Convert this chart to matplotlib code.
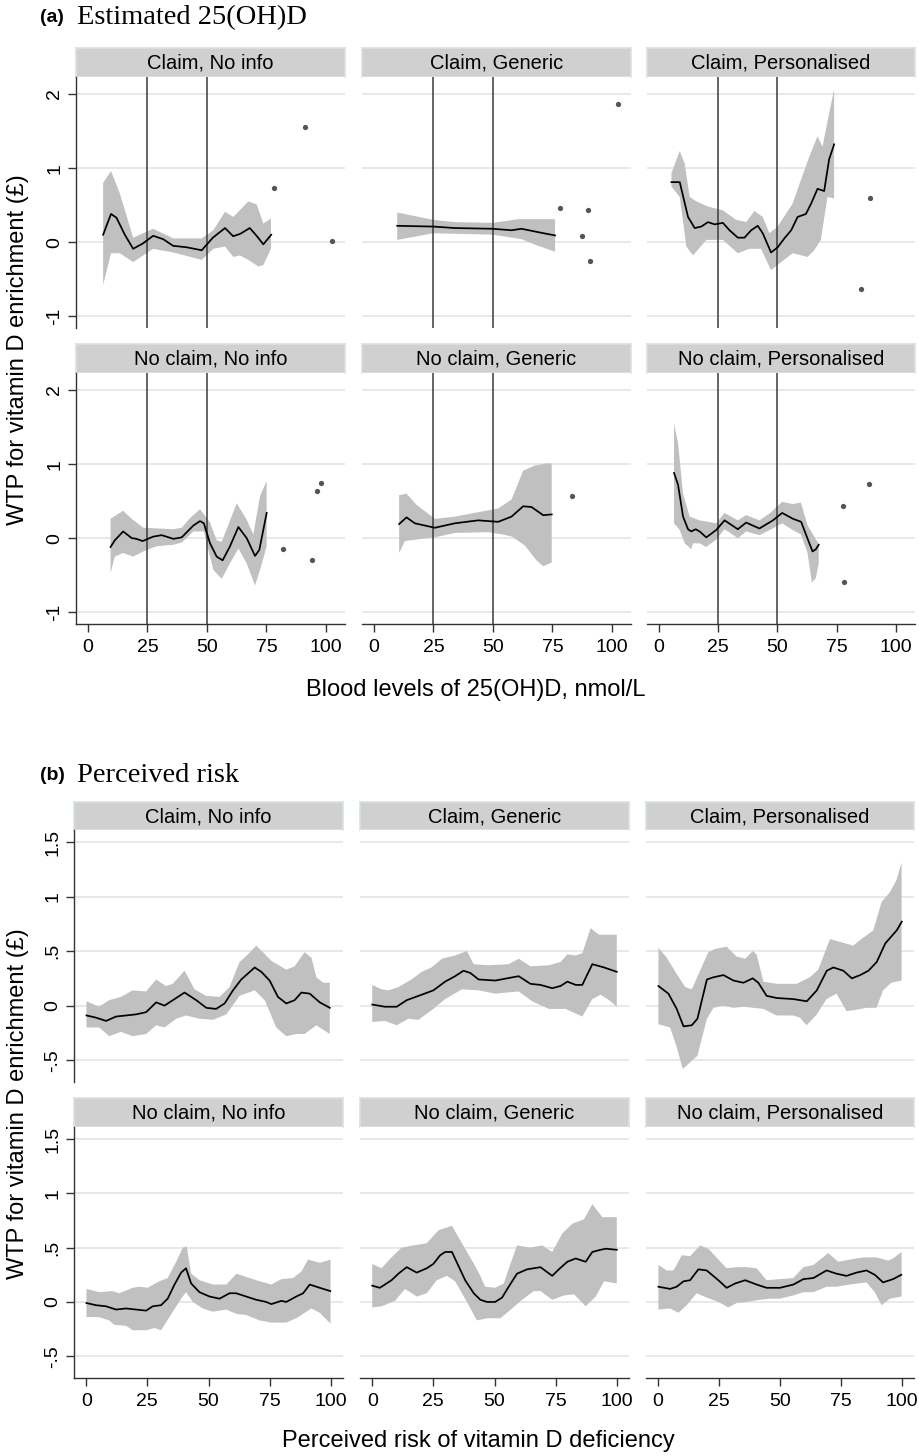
import matplotlib
matplotlib.use("Agg")
import matplotlib.pyplot as plt
import numpy as np

# ---- panel (a): estimated 25(OH)D ----
A_FACETS = ["Claim, No info", "Claim, Generic", "Claim, Personalised",
            "No claim, No info", "No claim, Generic", "No claim, Personalised"]
A_REF_LINES = [25, 50]
A_XTICKS = [0, 25, 50, 75, 100]
A_YTICKS = [-1, 0, 1, 2]
A_YTICKLABELS = ["-1", "0", "1", "2"]

a1_x = [6.4, 9.7, 12.0, 15.5, 19.0, 23.0, 27.4, 31.6, 35.8, 41.5, 47.8, 52.5, 57.6, 61.0, 63.9, 68.0, 71.0, 73.7, 77.0]
a1_fit = [0.10, 0.38, 0.33, 0.10, -0.09, -0.02, 0.085, 0.04, -0.05, -0.07, -0.11, 0.06, 0.19, 0.08, 0.11, 0.19, 0.08, -0.03, 0.10]
a1_hi_x = [6.4, 9.7, 13.4, 19.0, 27.4, 35.9, 47.8, 52.7, 57.6, 61.1, 67.4, 70.9, 73.7, 76.9]
a1_hi = [0.80, 0.96, 0.66, 0.06, 0.18, 0.05, 0.05, 0.16, 0.41, 0.34, 0.55, 0.51, 0.25, 0.32]
a1_lo_x = [6.4, 9.7, 13.4, 19.0, 27.4, 35.9, 47.8, 52.7, 57.6, 61.1, 63.9, 67.4, 71.6, 73.7, 76.9]
a1_lo = [-0.58, -0.15, -0.15, -0.27, -0.09, -0.14, -0.24, -0.09, -0.06, -0.20, -0.18, -0.24, -0.33, -0.31, -0.09]
a1_pts_x = [78.2, 91.0, 102.4]
a1_pts_y = [0.73, 1.55, 0.01]

a2_x = [9.8, 25.0, 34.0, 50.0, 57.8, 62.0, 69.7, 76.1]
a2_fit = [0.22, 0.21, 0.19, 0.18, 0.16, 0.18, 0.13, 0.09]
a2_hi_x = [9.8, 25.0, 34.0, 50.0, 60.7, 76.1]
a2_hi = [0.40, 0.30, 0.27, 0.26, 0.31, 0.31]
a2_lo_x = [9.8, 25.0, 50.0, 62.0, 69.0, 76.1]
a2_lo = [0.03, 0.12, 0.10, 0.04, -0.05, -0.13]
a2_pts_x = [78.2, 87.5, 90.1, 90.8, 102.4]
a2_pts_y = [0.46, 0.08, 0.44, -0.25, 1.86]

a3_x = [5.3, 8.8, 12.3, 15.1, 17.9, 20.7, 23.5, 27.0, 29.8, 33.3, 36.1, 38.9, 41.7, 43.8, 47.3, 50.1, 52.9, 55.8, 58.5, 62.0, 64.2, 66.9, 69.7, 71.8, 73.9]
a3_fit = [0.81, 0.81, 0.34, 0.19, 0.21, 0.27, 0.24, 0.26, 0.16, 0.06, 0.06, 0.16, 0.22, 0.12, -0.14, -0.07, 0.05, 0.16, 0.34, 0.38, 0.52, 0.72, 0.69, 1.12, 1.32]
a3_hi_x = [5.3, 8.8, 10.9, 13.0, 15.8, 20.7, 27.0, 32.6, 36.8, 40.3, 43.8, 46.6, 50.1, 56.4, 59.9, 63.4, 66.9, 69.0, 71.8, 73.9]
a3_hi = [0.93, 1.23, 1.06, 0.61, 0.55, 0.48, 0.43, 0.30, 0.27, 0.42, 0.34, 0.12, 0.21, 0.52, 0.84, 1.15, 1.43, 1.29, 1.74, 2.06]
a3_lo_x = [5.3, 8.8, 11.6, 14.4, 20.0, 27.0, 33.3, 38.2, 43.1, 47.3, 50.8, 56.4, 62.7, 65.5, 68.3, 71.1, 73.9]
a3_lo = [0.75, 0.61, -0.06, -0.18, 0.03, 0.03, -0.15, -0.09, -0.09, -0.38, -0.29, -0.15, -0.20, -0.11, 0.03, 0.61, 0.59]
a3_pts_x = [89.2, 85.4]
a3_pts_y = [0.60, -0.64]

a4_x = [9.5, 11.3, 14.8, 18.4, 20.4, 23.0, 27.4, 31.0, 35.9, 39.4, 44.3, 47.1, 48.7, 51.3, 54.1, 56.6, 59.7, 63.2, 66.7, 70.2, 72.0, 75.1]
a4_fit = [-0.12, -0.03, 0.09, 0.0, -0.01, -0.04, 0.02, 0.04, -0.01, 0.01, 0.17, 0.23, 0.20, -0.07, -0.25, -0.30, -0.11, 0.15, 0.0, -0.24, -0.16, 0.34]
a4_hi_x = [9.5, 14.8, 18.4, 23.3, 35.9, 39.4, 42.9, 47.1, 51.3, 54.1, 56.2, 62.5, 66.7, 69.5, 72.3, 75.1]
a4_hi = [0.26, 0.37, 0.26, 0.14, 0.12, 0.14, 0.27, 0.39, 0.21, -0.03, -0.05, 0.47, 0.25, 0.05, 0.57, 0.77]
a4_lo_x = [9.5, 11.3, 14.8, 19.0, 23.3, 28.8, 35.9, 39.4, 44.3, 48.7, 52.7, 56.2, 59.7, 63.2, 66.7, 70.2, 72.3, 75.1]
a4_lo = [-0.47, -0.25, -0.20, -0.25, -0.18, -0.11, -0.09, -0.06, 0.09, 0.09, -0.43, -0.55, -0.34, -0.14, -0.34, -0.64, -0.43, -0.11]
a4_pts_x = [82.0, 94.3, 96.2, 98.0]
a4_pts_y = [-0.15, -0.30, 0.64, 0.74]

a5_x = [10.6, 13.7, 17.2, 25.6, 34.0, 43.8, 52.2, 57.8, 62.7, 66.2, 71.1, 74.7]
a5_fit = [0.19, 0.28, 0.20, 0.14, 0.20, 0.24, 0.22, 0.29, 0.43, 0.42, 0.31, 0.32]
a5_hi_x = [10.6, 13.7, 17.9, 25.6, 34.0, 43.8, 52.2, 57.8, 62.7, 67.6, 72.6, 74.7]
a5_hi = [0.58, 0.60, 0.45, 0.26, 0.29, 0.35, 0.40, 0.52, 0.91, 0.98, 1.01, 1.01]
a5_lo_x = [10.6, 13.0, 20.0, 25.6, 34.0, 48.0, 54.0, 58.0, 63.4, 68.3, 71.1, 74.7]
a5_lo = [-0.20, -0.04, -0.01, 0.01, 0.07, 0.08, 0.05, 0.02, -0.10, -0.30, -0.38, -0.33]
a5_pts_x = [83.3]
a5_pts_y = [0.57]

a6_x = [6.4, 8.1, 10.2, 12.3, 13.7, 15.5, 17.2, 20.0, 24.2, 27.7, 33.3, 36.8, 42.4, 48.1, 52.0, 56.6, 60.0, 62.0, 64.8, 66.2, 67.4]
a6_fit = [0.88, 0.72, 0.29, 0.12, 0.09, 0.12, 0.09, 0.01, 0.11, 0.24, 0.12, 0.21, 0.13, 0.24, 0.34, 0.26, 0.22, 0.05, -0.18, -0.15, -0.09]
a6_hi_x = [6.4, 8.1, 10.2, 13.0, 17.2, 24.2, 27.7, 33.3, 36.8, 42.4, 46.6, 52.0, 56.4, 59.9, 62.7, 64.8, 67.4]
a6_hi = [1.55, 1.28, 0.60, 0.29, 0.24, 0.20, 0.34, 0.24, 0.31, 0.24, 0.33, 0.49, 0.46, 0.48, 0.17, 0.06, -0.08]
a6_lo_x = [6.4, 8.8, 10.9, 13.7, 14.4, 17.2, 20.0, 24.2, 27.7, 33.3, 36.8, 42.4, 48.0, 52.0, 56.4, 59.9, 62.7, 64.5, 66.2, 67.4]
a6_lo = [0.20, 0.11, -0.07, -0.15, -0.07, -0.07, -0.12, -0.02, 0.12, 0.0, 0.09, 0.04, 0.13, 0.20, 0.11, 0.05, -0.20, -0.60, -0.54, -0.34]
a6_pts_x = [77.5, 88.8, 77.9]
a6_pts_y = [0.43, 0.73, -0.59]

# ---- panel (b): perceived risk ----
B_XTICKS = [0, 25, 50, 75, 100]
B_YTICKS = [-0.5, 0, 0.5, 1, 1.5]
B_YTICKLABELS = ["-.5", "0", ".5", "1", "1.5"]

b1_x = [0.1, 4.0, 8.1, 12.2, 16.3, 20.4, 24.5, 28.6, 32.0, 36.1, 40.2, 45.0, 49.1, 53.1, 56.6, 60.0, 63.4, 68.9, 71.6, 75.0, 78.4, 81.8, 85.2, 88.0, 91.4, 95.5, 99.6]
b1_fit = [-0.09, -0.11, -0.14, -0.10, -0.09, -0.08, -0.06, 0.03, 0.0, 0.06, 0.12, 0.05, -0.02, -0.03, 0.02, 0.14, 0.24, 0.35, 0.31, 0.23, 0.08, 0.02, 0.05, 0.12, 0.11, 0.03, -0.02]
b1_hi_x = [0.1, 5.3, 9.4, 14.2, 19.0, 24.5, 28.6, 32.6, 35.4, 40.2, 44.3, 49.0, 54.5, 58.6, 62.7, 66.1, 69.5, 72.3, 75.7, 81.8, 85.2, 89.3, 92.1, 94.1, 96.9, 99.6]
b1_hi = [0.04, -0.01, 0.05, 0.08, 0.14, 0.13, 0.24, 0.18, 0.20, 0.32, 0.15, 0.09, 0.08, 0.17, 0.40, 0.47, 0.55, 0.49, 0.41, 0.33, 0.36, 0.49, 0.44, 0.26, 0.21, 0.21]
b1_lo_x = [0.1, 5.3, 9.4, 14.2, 19.0, 24.5, 28.6, 32.0, 36.8, 40.8, 46.3, 51.8, 57.3, 62.7, 68.9, 73.0, 77.7, 81.8, 85.9, 89.3, 94.1, 99.6]
b1_lo = [-0.20, -0.20, -0.28, -0.24, -0.28, -0.26, -0.18, -0.20, -0.12, -0.09, -0.12, -0.13, -0.08, 0.09, 0.14, 0.05, -0.20, -0.28, -0.26, -0.26, -0.18, -0.26]

b2_x = [0, 5.2, 10.0, 14.1, 20.2, 25.0, 29.8, 33.9, 37.3, 40.1, 43.5, 50.3, 59.9, 64.7, 68.8, 73.6, 77.0, 79.8, 83.2, 85.9, 90.0, 94.8, 100]
b2_fit = [0.01, -0.01, -0.01, 0.05, 0.10, 0.14, 0.22, 0.27, 0.32, 0.30, 0.24, 0.23, 0.27, 0.20, 0.19, 0.16, 0.18, 0.22, 0.19, 0.19, 0.38, 0.35, 0.31]
b2_hi_x = [0, 3.8, 6.6, 10.7, 16.1, 20.2, 24.3, 28.5, 33.9, 38.7, 41.5, 47.6, 55.8, 59.9, 64.7, 72.2, 77.0, 79.8, 83.2, 85.9, 89.3, 92.7, 96.9, 100]
b2_hi = [0.19, 0.15, 0.14, 0.17, 0.24, 0.31, 0.35, 0.43, 0.46, 0.50, 0.38, 0.37, 0.38, 0.43, 0.36, 0.37, 0.40, 0.47, 0.46, 0.48, 0.71, 0.65, 0.65, 0.65]
b2_lo_x = [0, 5.2, 10.0, 14.8, 18.9, 25.0, 29.8, 36.7, 43.5, 50.3, 59.9, 65.4, 72.2, 79.1, 85.9, 90.0, 93.4, 96.9, 100]
b2_lo = [-0.15, -0.14, -0.18, -0.12, -0.13, -0.03, 0.06, 0.15, 0.14, 0.11, 0.13, 0.04, -0.03, -0.03, -0.10, 0.06, 0.10, 0.05, -0.01]

b3_x = [0.1, 4.2, 7.6, 10.4, 13.8, 16.1, 20.0, 22.7, 26.8, 30.9, 35.0, 38.8, 41.1, 44.5, 48.6, 55.5, 61.0, 65.1, 69.2, 71.9, 76.0, 79.5, 82.9, 86.3, 89.7, 93.2, 97.9, 100]
b3_fit = [0.18, 0.11, -0.03, -0.19, -0.18, -0.12, 0.24, 0.26, 0.28, 0.23, 0.21, 0.25, 0.21, 0.09, 0.07, 0.06, 0.04, 0.14, 0.32, 0.35, 0.32, 0.25, 0.28, 0.32, 0.40, 0.57, 0.69, 0.77]
b3_hi_x = [0.1, 3.5, 7.6, 11.1, 13.8, 17.2, 20.6, 23.4, 28.1, 32.2, 35.7, 38.8, 40.4, 43.2, 48.6, 56.8, 62.3, 65.7, 70.5, 75.3, 80.0, 82.8, 88.3, 91.7, 95.1, 97.8, 99.9]
b3_hi = [0.53, 0.44, 0.29, 0.17, 0.15, 0.32, 0.49, 0.52, 0.54, 0.45, 0.43, 0.50, 0.47, 0.22, 0.20, 0.20, 0.26, 0.33, 0.61, 0.58, 0.55, 0.60, 0.69, 0.95, 1.04, 1.15, 1.31]
b3_lo_x = [0.1, 4.9, 7.6, 10.1, 13.1, 16.1, 20.0, 22.7, 26.8, 30.9, 35.0, 39.1, 43.2, 48.6, 55.5, 58.2, 60.9, 65.1, 69.1, 73.2, 77.3, 80.7, 85.5, 89.6, 92.3, 95.7, 99.9]
b3_lo = [-0.17, -0.20, -0.38, -0.58, -0.52, -0.46, -0.12, -0.02, 0.0, -0.02, -0.01, -0.02, -0.03, -0.09, -0.09, -0.11, -0.18, -0.08, 0.06, 0.11, -0.05, -0.04, -0.02, -0.02, 0.14, 0.21, 0.23]

b4_x = [0.1, 4.0, 8.1, 12.2, 16.3, 20.4, 24.5, 27.2, 30.6, 33.3, 36.1, 38.8, 40.8, 42.9, 46.3, 50.4, 54.5, 58.6, 61.3, 65.4, 69.5, 73.6, 75.7, 79.8, 81.8, 85.9, 88.7, 91.4, 95.5, 99.8]
b4_fit = [-0.01, -0.03, -0.04, -0.07, -0.06, -0.07, -0.08, -0.04, -0.03, 0.03, 0.16, 0.27, 0.31, 0.17, 0.09, 0.05, 0.03, 0.08, 0.08, 0.05, 0.02, 0.0, -0.02, 0.01, 0.0, 0.05, 0.08, 0.16, 0.13, 0.10]
b4_hi_x = [0.1, 5.3, 10.7, 13.5, 19.0, 21.7, 25.1, 29.9, 33.3, 36.8, 39.5, 41.1, 42.9, 46.3, 51.8, 57.3, 61.4, 65.4, 70.9, 75.7, 79.8, 84.6, 88.0, 90.7, 95.5, 99.9]
b4_hi = [0.12, 0.09, 0.10, 0.08, 0.13, 0.14, 0.13, 0.19, 0.22, 0.37, 0.50, 0.51, 0.26, 0.20, 0.16, 0.16, 0.26, 0.23, 0.19, 0.16, 0.21, 0.22, 0.28, 0.39, 0.36, 0.39]
b4_lo_x = [0.1, 5.3, 9.4, 11.5, 16.3, 19.0, 24.5, 27.9, 30.6, 35.4, 38.8, 40.8, 43.6, 47.7, 51.8, 57.3, 61.4, 65.4, 70.9, 75.7, 81.8, 85.9, 92.1, 95.5, 99.9]
b4_lo = [-0.14, -0.14, -0.17, -0.21, -0.22, -0.26, -0.26, -0.24, -0.26, -0.09, 0.03, 0.09, 0.0, -0.06, -0.09, -0.07, -0.11, -0.12, -0.17, -0.19, -0.19, -0.15, -0.06, -0.10, -0.20]

b5_x = [0, 3.1, 7.9, 10.7, 14.1, 18.2, 22.3, 25.0, 27.8, 29.8, 32.6, 35.3, 38.0, 41.5, 44.2, 46.9, 50.3, 53.1, 55.8, 59.2, 63.3, 68.8, 73.6, 76.3, 79.8, 83.2, 87.3, 90.0, 93.4, 95.5, 100]
b5_fit = [0.15, 0.13, 0.20, 0.26, 0.32, 0.27, 0.31, 0.35, 0.43, 0.46, 0.46, 0.33, 0.20, 0.08, 0.02, 0.0, 0.0, 0.04, 0.14, 0.26, 0.30, 0.32, 0.24, 0.30, 0.37, 0.40, 0.37, 0.46, 0.48, 0.49, 0.48]
b5_hi_x = [0, 3.8, 7.9, 12.0, 16.8, 22.3, 27.1, 32.6, 36.7, 42.1, 44.2, 46.2, 50.3, 53.8, 56.5, 59.2, 64.7, 69.5, 73.6, 77.7, 81.8, 86.6, 90.0, 94.1, 100]
b5_hi = [0.35, 0.31, 0.41, 0.50, 0.52, 0.54, 0.66, 0.70, 0.54, 0.33, 0.24, 0.14, 0.13, 0.17, 0.35, 0.52, 0.50, 0.52, 0.46, 0.63, 0.72, 0.76, 0.90, 0.78, 0.78]
b5_lo_x = [0, 3.8, 9.3, 13.4, 18.2, 22.3, 26.4, 30.5, 33.9, 38.7, 42.8, 46.9, 52.4, 57.2, 61.3, 66.1, 68.8, 73.6, 78.4, 82.5, 87.3, 91.4, 94.8, 100]
b5_lo = [-0.05, -0.04, 0.01, 0.12, 0.05, 0.08, 0.20, 0.24, 0.19, 0.0, -0.17, -0.15, -0.15, -0.06, 0.02, 0.10, 0.10, 0.02, 0.06, 0.07, -0.04, 0.05, 0.19, 0.17]

b6_x = [0.1, 4.9, 7.6, 10.4, 13.1, 16.5, 19.9, 24.7, 28.1, 31.6, 35.7, 40.4, 44.5, 50.0, 55.5, 59.6, 63.7, 69.1, 73.2, 77.3, 81.4, 85.5, 88.9, 92.3, 96.4, 99.8]
b6_fit = [0.14, 0.12, 0.14, 0.19, 0.20, 0.30, 0.29, 0.20, 0.13, 0.17, 0.20, 0.16, 0.13, 0.13, 0.16, 0.21, 0.22, 0.29, 0.26, 0.24, 0.27, 0.29, 0.25, 0.18, 0.21, 0.25]
b6_hi_x = [0.1, 3.5, 6.3, 9.7, 13.1, 17.2, 20.6, 24.7, 28.1, 32.2, 36.3, 40.4, 44.5, 50.0, 55.5, 59.6, 63.7, 69.8, 73.9, 78.7, 84.2, 89.6, 94.4, 96.4, 99.9]
b6_hi = [0.34, 0.29, 0.29, 0.43, 0.42, 0.52, 0.49, 0.39, 0.31, 0.32, 0.32, 0.31, 0.20, 0.21, 0.22, 0.32, 0.34, 0.45, 0.37, 0.39, 0.41, 0.41, 0.38, 0.40, 0.46]
b6_lo_x = [0.1, 4.9, 8.3, 11.7, 15.8, 19.9, 24.7, 28.8, 32.2, 36.3, 41.8, 45.9, 50.0, 55.5, 59.6, 63.7, 69.1, 73.2, 78.7, 85.5, 88.9, 91.7, 95.1, 99.9]
b6_lo = [-0.07, -0.06, -0.10, -0.03, 0.08, 0.04, 0.0, -0.05, -0.01, 0.0, 0.02, 0.03, 0.03, 0.06, 0.09, 0.09, 0.14, 0.14, 0.16, 0.18, 0.09, -0.03, 0.03, 0.05]

# ---- style ----
SANS = ["Liberation Sans", "DejaVu Sans"]
SERIF = ["Liberation Serif", "DejaVu Serif"]
BAND = "#c0c0c0"
STRIP = "#d0d0d0"
STRIP_EDGE = "#d6e2e8"
GRID = "#e6e6e6"
AXIS = "#333333"
REF = "#3a3a3a"
DOT = "#555555"

W, H = 919, 1456
plt.rcParams["font.family"] = SANS


def box(l, t, r, b):
    """pixel box (left, top, right, bottom) -> figure fraction rect"""
    return [l / W, 1 - b / H, (r - l) / W, (b - t) / H]


def facet(fig, rect, strip_rect, title, col, row, xlim, ylim, yticks, yticklabels, xticks):
    sax = fig.add_axes(strip_rect)
    sax.set_facecolor(STRIP)
    sax.set_xticks([])
    sax.set_yticks([])
    for s in sax.spines.values():
        s.set_color(STRIP_EDGE)
        s.set_linewidth(1.2)
    sax.text(0.5, 0.48, title, ha="center", va="center", fontsize=14.5, transform=sax.transAxes)

    ax = fig.add_axes(rect)
    ax.set_xlim(*xlim)
    ax.set_ylim(*ylim)
    ax.set_yticks(yticks)
    ax.set_yticklabels(yticklabels)
    ax.set_xticks(xticks)
    ax.grid(axis="y", color=GRID, linewidth=1.3)
    ax.set_axisbelow(True)
    ax.spines["top"].set_visible(False)
    ax.spines["right"].set_visible(False)
    for s in ("left", "bottom"):
        ax.spines[s].set_color(AXIS)
        ax.spines[s].set_linewidth(1.0)
    ax.tick_params(colors=AXIS, labelcolor="black", labelsize=14, length=6, width=1.0)
    if col == 0:
        ax.tick_params(axis="y", labelrotation=90, pad=3)
        for lab in ax.get_yticklabels():
            lab.set_va("center")
    else:
        ax.spines["left"].set_visible(False)
        ax.tick_params(axis="y", left=False, labelleft=False)
    if row == 0:
        ax.spines["bottom"].set_visible(False)
        ax.tick_params(axis="x", bottom=False, labelbottom=False)
    else:
        ax.tick_params(axis="x", pad=5)
    return ax


def draw(ax, x, fit, hi_x, hi, lo_x, lo, pts_x=None, pts_y=None):
    ax.fill(np.r_[hi_x, lo_x[::-1]], np.r_[hi, lo[::-1]], color=BAND, linewidth=0, zorder=2)
    ax.plot(x, fit, color="black", linewidth=1.25, zorder=4)
    if pts_x is not None:
        ax.plot(pts_x, pts_y, "o", color=DOT, markersize=3.8, markeredgewidth=0, zorder=4)


a_series = [
    (a1_x, a1_fit, a1_hi_x, a1_hi, a1_lo_x, a1_lo, a1_pts_x, a1_pts_y),
    (a2_x, a2_fit, a2_hi_x, a2_hi, a2_lo_x, a2_lo, a2_pts_x, a2_pts_y),
    (a3_x, a3_fit, a3_hi_x, a3_hi, a3_lo_x, a3_lo, a3_pts_x, a3_pts_y),
    (a4_x, a4_fit, a4_hi_x, a4_hi, a4_lo_x, a4_lo, a4_pts_x, a4_pts_y),
    (a5_x, a5_fit, a5_hi_x, a5_hi, a5_lo_x, a5_lo, a5_pts_x, a5_pts_y),
    (a6_x, a6_fit, a6_hi_x, a6_hi, a6_lo_x, a6_lo, a6_pts_x, a6_pts_y),
]
b_series = [
    (b1_x, b1_fit, b1_hi_x, b1_hi, b1_lo_x, b1_lo),
    (b2_x, b2_fit, b2_hi_x, b2_hi, b2_lo_x, b2_lo),
    (b3_x, b3_fit, b3_hi_x, b3_hi, b3_lo_x, b3_lo),
    (b4_x, b4_fit, b4_hi_x, b4_hi, b4_lo_x, b4_lo),
    (b5_x, b5_fit, b5_hi_x, b5_hi, b5_lo_x, b5_lo),
    (b6_x, b6_fit, b6_hi_x, b6_hi, b6_lo_x, b6_lo),
]

# pixel layout of the facets
A_COLS = [(76, 345), (362, 631), (647, 915)]
A_ROWS = [(48, 77, 328), (344, 373, 624)]   # strip top, axes top, axes bottom
B_COLS = [(74, 343), (360, 629), (646, 914)]
B_ROWS = [(802, 830, 1082), (1098, 1127, 1378)]


def main():
    fig = plt.figure(figsize=(W / 100, H / 100), dpi=100)

    for i, series in enumerate(a_series):
        row, col = divmod(i, 3)
        l, r = A_COLS[col]
        st, t, b = A_ROWS[row]
        ax = facet(fig, box(l, t, r, b), box(l, st, r, t), A_FACETS[i], col, row,
                   (-5, 108), (-1.16, 2.23), A_YTICKS, A_YTICKLABELS, A_XTICKS)
        for xv in A_REF_LINES:
            ax.axvline(xv, color=REF, linewidth=1.1, zorder=3)
        x, fit, hx, hi, lx, lo, px, py = [np.asarray(v, float) for v in series]
        draw(ax, x, fit, hx, hi, lx, lo, px, py)

    for i, series in enumerate(b_series):
        row, col = divmod(i, 3)
        l, r = B_COLS[col]
        st, t, b = B_ROWS[row]
        ax = facet(fig, box(l, t, r, b), box(l, st, r, t), A_FACETS[i], col, row,
                   (-5, 105), (-0.70, 1.61), B_YTICKS, B_YTICKLABELS, B_XTICKS)
        x, fit, hx, hi, lx, lo = [np.asarray(v, float) for v in series]
        draw(ax, x, fit, hx, hi, lx, lo)

    # panel headings
    fig.text(40 / W, 1 - 18 / H, "(a)", fontsize=14, fontweight="bold", va="center")
    fig.text(77 / W, 1 - 18 / H, "Estimated 25(OH)D", fontsize=20.5, family=SERIF, va="center")
    fig.text(40 / W, 1 - 775 / H, "(b)", fontsize=14, fontweight="bold", va="center")
    fig.text(77 / W, 1 - 775 / H, "Perceived risk", fontsize=20.5, family=SERIF, va="center")

    # axis titles
    ylab = "WTP for vitamin D enrichment (\u00a3)"
    fig.text(18 / W, 1 - 350 / H, ylab, rotation=90, fontsize=17, ha="center", va="center")
    fig.text(18 / W, 1 - 1104 / H, ylab, rotation=90, fontsize=17, ha="center", va="center")
    fig.text(476 / W, 1 - 690 / H, "Blood levels of 25(OH)D, nmol/L", fontsize=17, ha="center", va="center")
    fig.text(478 / W, 1 - 1441 / H, "Perceived risk of vitamin D deficiency", fontsize=17, ha="center", va="center")

    fig.savefig("out.png", dpi=100, facecolor="white")


if __name__ == "__main__":
    main()
